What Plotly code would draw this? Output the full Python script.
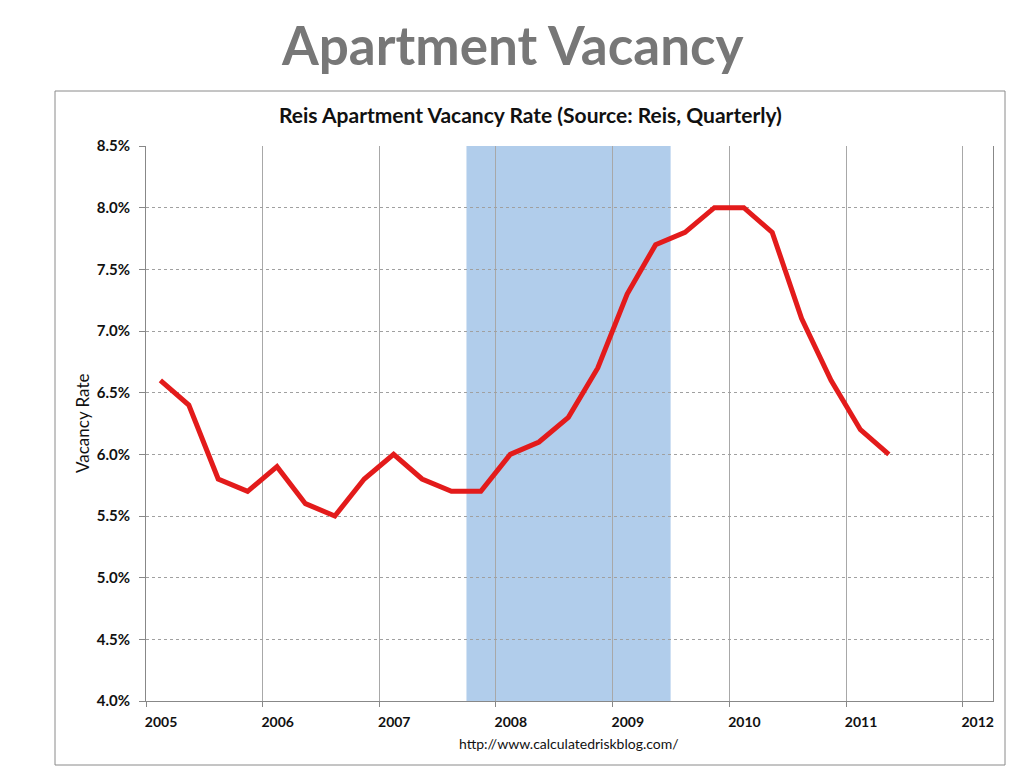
import plotly.graph_objects as go

# quarterly observations (plotted mid-quarter)
QUARTERS = [
    "2005-02-15", "2005-05-15", "2005-08-15", "2005-11-15",
    "2006-02-15", "2006-05-15", "2006-08-15", "2006-11-15",
    "2007-02-15", "2007-05-15", "2007-08-15", "2007-11-15",
    "2008-02-15", "2008-05-15", "2008-08-15", "2008-11-15",
    "2009-02-15", "2009-05-15", "2009-08-15", "2009-11-15",
    "2010-02-15", "2010-05-15", "2010-08-15", "2010-11-15",
    "2011-02-15", "2011-05-15",
]
VACANCY_RATE = [
    6.6, 6.4, 5.8, 5.7,
    5.9, 5.6, 5.5, 5.8,
    6.0, 5.8, 5.7, 5.7,
    6.0, 6.1, 6.3, 6.7,
    7.3, 7.7, 7.8, 8.0,
    8.0, 7.8, 7.1, 6.6,
    6.2, 6.0,
]
RECESSION = ("2007-10-01", "2009-07-01")
YEAR_TICKS = [f"{y}-01-01" for y in range(2005, 2013)]
YEAR_LABELS = [str(y) for y in range(2005, 2013)]
Y_TICKS = [4.0, 4.5, 5.0, 5.5, 6.0, 6.5, 7.0, 7.5, 8.0, 8.5]

# page has an 8px body margin, so the figure is laid out 8px in from the window
OFF = 8
W, H = 1024 - OFF, 768 - OFF
L, R, T, B = 146 - OFF, W - (993 - OFF), 146 - OFF, H - (701 - OFF)
FONT = "Lato, 'Open Sans', sans-serif"


def px_x(x):
    return (x - OFF - L) / (W - L - R)


def px_y(y):
    return (H - B - (y - OFF)) / (H - T - B)


def label(text, x, y, size, color="#111111", angle=0):
    return dict(
        text=text,
        xref="paper", yref="paper",
        x=px_x(x), y=px_y(y),
        xanchor="center", yanchor="middle",
        showarrow=False,
        textangle=angle,
        font={"family": FONT, "size": size, "color": color},
    )


fig = go.Figure()

fig.add_trace(
    go.Scatter(
        x=QUARTERS,
        y=VACANCY_RATE,
        mode="lines",
        line={"color": "#e31b1b", "width": 5},
        hovertemplate="%{x|%Y-%m}: %{y:.1f}%<extra></extra>",
        showlegend=False,
    )
)

fig.add_shape(
    type="rect",
    xref="x",
    yref="paper",
    x0=RECESSION[0],
    x1=RECESSION[1],
    y0=0,
    y1=1,
    fillcolor="#b1cdeb",
    line_width=0,
    layer="below",
)

# outer chart frame
fig.add_shape(
    type="rect",
    xref="paper",
    yref="paper",
    x0=px_x(55),
    x1=px_x(1005),
    y0=px_y(765),
    y1=px_y(91),
    line={"color": "#8a8a8a", "width": 1},
    fillcolor="rgba(0,0,0,0)",
)

fig.update_xaxes(
    type="date",
    range=["2005-01-01", "2012-04-05"],
    tickvals=YEAR_TICKS,
    ticktext=YEAR_LABELS,
    ticks="outside",
    ticklen=5,
    tickcolor="#888888",
    ticklabelshift=15,
    ticklabelstandoff=3,
    showgrid=True,
    gridcolor="#a8a8a8",
    gridwidth=1,
    showline=True,
    linecolor="#888888",
    tickfont={"family": FONT, "size": 14, "color": "#111111", "weight": "bold"},
    zeroline=False,
)

fig.update_yaxes(
    range=[4.0, 8.5],
    tickvals=Y_TICKS,
    ticktext=[f"{v:.1f}%" for v in Y_TICKS],
    ticks="outside",
    ticklen=6,
    tickcolor="#888888",
    ticklabelstandoff=6,
    showgrid=True,
    gridcolor="#a0a0a0",
    griddash="dot",
    gridwidth=1,
    showline=True,
    linecolor="#888888",
    mirror=True,
    tickfont={"family": FONT, "size": 15, "color": "#111111", "weight": "bold"},
    zeroline=False,
)

fig.update_layout(
    width=W,
    height=H,
    margin={"l": L, "r": R, "t": T, "b": B},
    paper_bgcolor="white",
    plot_bgcolor="white",
    annotations=[
        label("<b>Apartment Vacancy</b>", 512, 44, 53, color="#777777"),
        label("<b>Reis Apartment Vacancy Rate (Source: Reis, Quarterly)</b>",
              530, 115, 21),
        label("Vacancy Rate", 82, 424, 17, angle=-90),
        label("http://www.calculatedriskblog.com/", 569, 743, 14),
    ],
)

fig.write_html("out.html")
